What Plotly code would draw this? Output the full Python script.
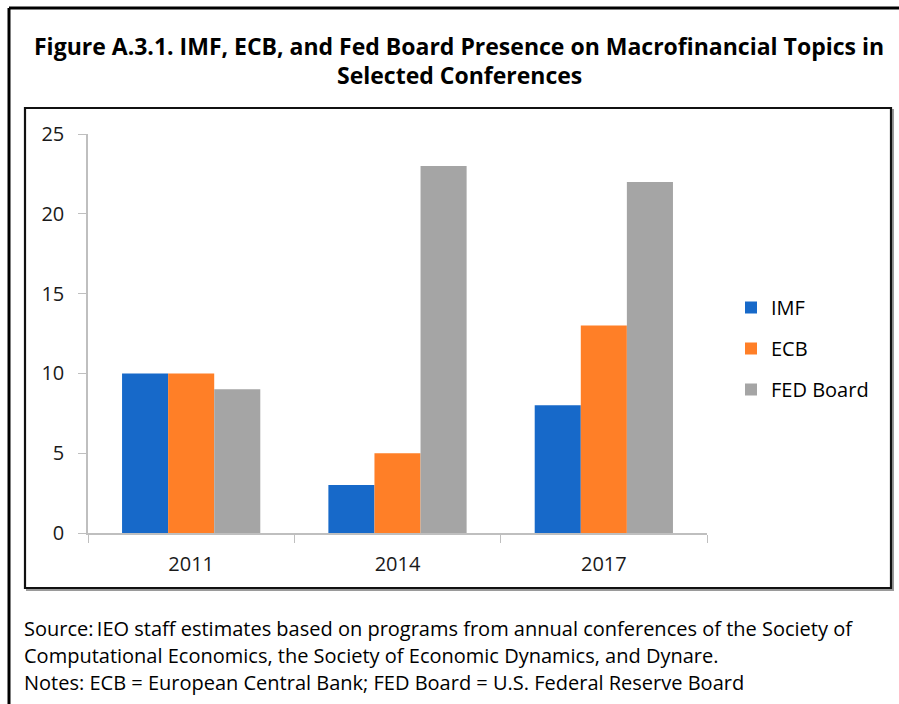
import plotly.graph_objects as go

years = ["2011", "2014", "2017"]
imf = [10, 3, 8]
ecb = [10, 5, 13]
fed = [9, 23, 22]
series_names = ["IMF", "ECB", "FED Board"]
colors = ["#1769C9", "#FF7F27", "#A5A5A5"]

title_lines = [
    "Figure A.3.1. IMF, ECB, and Fed Board Presence on Macrofinancial Topics in",
    "Selected Conferences",
]
footer_lines = [
    "Source:\u2009IEO staff estimates based on programs from annual conferences of the Society of",
    "Computational Economics, the Society of Economic Dynamics, and Dynare.",
    "Notes: ECB = European Central Bank; FED Board = U.S. Federal Reserve Board",
]

FONT = "Open Sans"
W, H = 899, 704
L, R, T, B = 88, 707, 134, 533

def px(x):
    return (x - L) / (R - L)

def py(y):
    return (B - y) / (B - T)

fig = go.Figure()
for name, vals, c in zip(series_names, [imf, ecb, fed], colors):
    fig.add_trace(go.Bar(x=years, y=vals, name=name, marker_color=c,
                         marker_line_width=0, legendgroup=name))

fig.update_layout(
    width=W, height=H,
    margin=dict(l=L, r=W - R, t=T, b=H - B),
    paper_bgcolor="white", plot_bgcolor="white",
    barmode="group", bargap=0.33, bargroupgap=0,
    font=dict(family=FONT, color="#000000", size=20),
    showlegend=True,
    legend=dict(x=px(731), y=py(288), xanchor="left", yanchor="top",
                font=dict(size=20, family=FONT, color="#000000"), traceorder="grouped",
                tracegroupgap=12, itemwidth=30, bgcolor="rgba(0,0,0,0)"),
)

fig.update_xaxes(showline=True, linecolor="#BFBFBF", linewidth=1.5,
                 ticks="outside", tickson="boundaries", ticklen=8, tickcolor="#BFBFBF",
                 tickfont=dict(size=20, family=FONT, color="#1a1a1a"), showgrid=False,
                 ticklabelstandoff=12)
fig.update_yaxes(range=[0, 25], dtick=5, showline=True, linecolor="#BFBFBF", linewidth=1.5,
                 ticks="outside", ticklen=8, tickcolor="#BFBFBF",
                 tickfont=dict(size=20, family=FONT, color="#1a1a1a"), showgrid=False, zeroline=False,
                 ticklabelstandoff=10)

# inner chart box with a soft shadow
fig.add_shape(type="rect", xref="paper", yref="paper",
              x0=px(27), x1=px(893), y0=py(590), y1=py(110),
              line=dict(color="#9A9A9A", width=2), layer="below")
fig.add_shape(type="rect", xref="paper", yref="paper",
              x0=px(25), x1=px(891), y0=py(588), y1=py(108),
              line=dict(color="#111111", width=2.2), fillcolor="white", layer="below")
# outer figure frame (left and top)
fig.add_shape(type="line", xref="paper", yref="paper",
              x0=px(9), x1=px(9), y0=py(704), y1=py(8),
              line=dict(color="#000000", width=3))
fig.add_shape(type="line", xref="paper", yref="paper",
              x0=px(9), x1=px(899), y0=py(8), y1=py(8),
              line=dict(color="#000000", width=3))

for i, line in enumerate(title_lines):
    fig.add_annotation(text="<b>" + line + "</b>", xref="paper", yref="paper",
                       x=px(459), y=py(46 + i * 29), xanchor="center", yanchor="middle",
                       showarrow=False, font=dict(size=23, family=FONT, color="#000000"))

for i, line in enumerate(footer_lines):
    fig.add_annotation(text=line, xref="paper", yref="paper",
                       x=px(22), y=py(628 + i * 27), xanchor="left", yanchor="middle",
                       showarrow=False, font=dict(size=20, family=FONT, color="#000000"))

fig.write_html("out.html", config={"displayModeBar": False},
               post_script="document.body.style.margin='0';")
